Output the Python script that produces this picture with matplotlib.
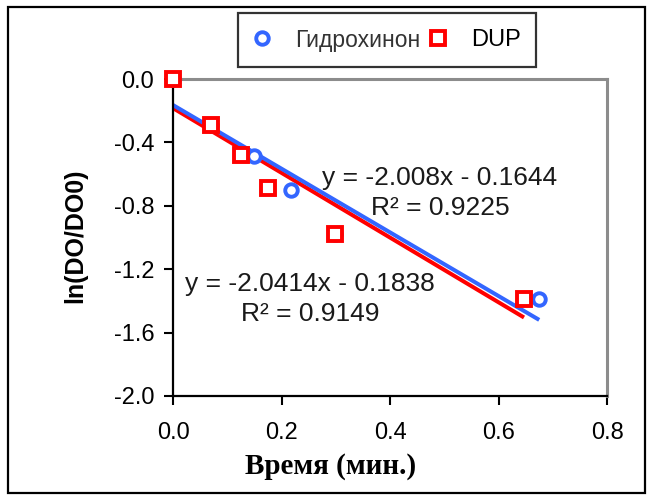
import matplotlib
matplotlib.use("Agg")
import matplotlib.pyplot as plt
import numpy as np
from matplotlib.lines import Line2D
from matplotlib.patches import Rectangle

# values
HYDRO_X = [0.0, 0.07, 0.15, 0.218, 0.298, 0.675]
HYDRO_Y = [0.0, -0.29, -0.484, -0.698, -0.975, -1.386]
DUP_X = [0.0, 0.07, 0.125, 0.176, 0.298, 0.647]
DUP_Y = [0.0, -0.29, -0.478, -0.688, -0.975, -1.386]

# trendline coefficients printed on the chart
HYDRO_FIT = (-2.008, -0.1644, 0.9225)
DUP_FIT = (-2.0414, -0.1838, 0.9149)

X_TICKS = [0.0, 0.2, 0.4, 0.6, 0.8]
Y_TICKS = [0.0, -0.4, -0.8, -1.2, -1.6, -2.0]

BLUE = "#3366ff"
RED = "#ff0000"

plt.rcParams["font.family"] = ["Liberation Sans", "DejaVu Sans"]

fig = plt.figure(figsize=(6.47, 4.95), dpi=100)
ax = fig.add_axes([0.2674, 0.2, 0.6708, 0.6404])

# trendlines
for xs, fit, col in ((DUP_X, DUP_FIT, RED), (HYDRO_X, HYDRO_FIT, BLUE)):
    xx = np.array([0.0, max(xs)])
    ax.plot(xx, fit[0] * xx + fit[1], color=col, lw=2.9, zorder=2,
            solid_capstyle="butt")

ax.plot(HYDRO_X, HYDRO_Y, ls="none", marker="o", ms=9, mfc="white",
        mec=BLUE, mew=2.8, zorder=3, clip_on=False)
ax.plot(DUP_X, DUP_Y, ls="none", marker="s", ms=9.5, mfc="white",
        mec=RED, mew=2.8, zorder=4, clip_on=False)

ax.text(0.492, -0.72,
        f"y = {HYDRO_FIT[0]:.3f}x - {abs(HYDRO_FIT[1]):.4f}\nR² = {HYDRO_FIT[2]:.4f}",
        ha="center", va="center", fontsize=19, color="#1a1a1a",
        linespacing=1.35, zorder=5)
ax.text(0.2525, -1.387,
        f"y = {DUP_FIT[0]:.4f}x - {abs(DUP_FIT[1]):.4f}\nR² = {DUP_FIT[2]:.4f}",
        ha="center", va="center", fontsize=19, color="#1a1a1a",
        linespacing=1.35, zorder=5)

ax.set_xlim(0, 0.8)
ax.set_ylim(-2.0, 0.0)
ax.set_xticks(X_TICKS)
ax.set_yticks(Y_TICKS)
ax.set_xticklabels([f"{v:.1f}" for v in X_TICKS])
ax.set_yticklabels([f"{v:.1f}" for v in Y_TICKS])
ax.tick_params(axis="both", direction="out", length=6.5, width=1.5,
               labelsize=17, colors="black")
ax.tick_params(axis="x", pad=12)
ax.tick_params(axis="y", pad=7)

for side in ("left", "bottom"):
    ax.spines[side].set_color("black")
    ax.spines[side].set_linewidth(1.6)
for side in ("top", "right"):
    ax.spines[side].set_color("#8c8c8c")
    ax.spines[side].set_linewidth(2.2)

ax.set_xlabel("Время (мин.)", family=["Liberation Serif", "DejaVu Serif"],
              fontweight="bold", fontsize=21)
ax.xaxis.set_label_coords((331 - 173) / 434, -(467 - 396) / 317)
ax.xaxis.label.set_va("center")
ax.set_ylabel("ln(DO/DO0)", fontweight="bold", fontsize=18)
ax.yaxis.set_label_coords((75 - 173) / 434, 0.505)
ax.yaxis.label.set_va("center")

handles = [
    Line2D([], [], ls="none", marker="o", ms=9, mfc="white", mec=BLUE, mew=2.8),
    Line2D([], [], ls="none", marker="s", ms=9.5, mfc="white", mec=RED, mew=2.8),
]
leg = fig.legend(handles, ["Гидрохинон", "DUP"], ncol=2,
                 loc="center", bbox_to_anchor=(387 / 647, 1 - 40 / 495),
                 fontsize=17, frameon=True, fancybox=False,
                 edgecolor="black", handlelength=0.8, handletextpad=1.0,
                 columnspacing=0.35, borderpad=0.65)
leg.get_frame().set_linewidth(1.6)
leg.get_texts()[0].set_color("#333333")
leg.get_texts()[0].set_fontsize(16.5)

# outer chart frame
fig.add_artist(Rectangle((8 / 647, 2 / 495), 637 / 647, 486 / 495,
                         transform=fig.transFigure, fill=False,
                         edgecolor="black", lw=1.6))

fig.savefig("out.png", dpi=100)
